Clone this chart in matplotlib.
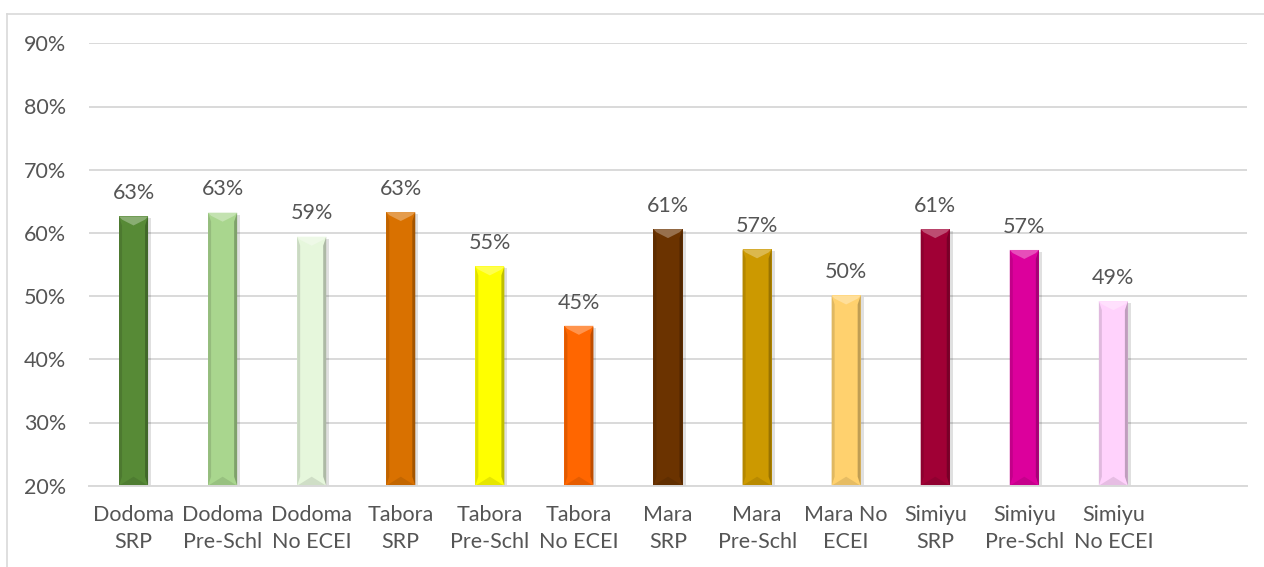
import matplotlib
matplotlib.use("Agg")
import matplotlib.pyplot as plt
from matplotlib.patches import Polygon, Rectangle
from matplotlib.lines import Line2D
from matplotlib.colors import to_rgb
import numpy as np

categories = ["Dodoma\nSRP", "Dodoma\nPre-Schl", "Dodoma\nNo ECEI",
              "Tabora\nSRP", "Tabora\nPre-Schl", "Tabora\nNo ECEI",
              "Mara\nSRP", "Mara\nPre-Schl", "Mara No\nECEI",
              "Simiyu\nSRP", "Simiyu\nPre-Schl", "Simiyu\nNo ECEI"]
values = [62.6, 63.2, 59.4, 63.3, 54.7, 45.3, 60.6, 57.4, 50.1, 60.6, 57.3, 49.2]
bar_colors = ["#578a36", "#a9d68e", "#e6f7dc",
              "#d97100", "#ffff00", "#ff6600",
              "#6b3300", "#cc9900", "#ffd16e",
              "#a00035", "#dc009c", "#ffd2fc"]
y_ticks = [20, 30, 40, 50, 60, 70, 80, 90]

plt.rcParams["font.family"] = ["Lato", "DejaVu Sans"]
text_color = "#555555"
grid_color = "#d9d9d9"
fsize = 15.5

W, H = 1264, 567
fig = plt.figure(figsize=(W / 100, H / 100), dpi=100)
ax = fig.add_axes([89 / W, 1 - 485.7 / H, (1247 - 89) / W, (485.7 - 43.3) / H])

n_slots = len(categories) + 1
ax.set_xlim(-0.5, n_slots - 0.5)
ax.set_ylim(20, 90)

x = np.arange(len(categories))
bar_w = 0.326
bars = ax.bar(x, values, width=bar_w, bottom=0, color=bar_colors,
              edgecolor="none", zorder=3)


def shade(c, f):
    r, g, b = to_rgb(c)
    if f >= 0:
        return (r + (1 - r) * f, g + (1 - g) * f, b + (1 - b) * f)
    return (r * (1 + f), g * (1 + f), b * (1 + f))


px_x = 1.0 / ((1247 - 89) / n_slots)   # data units per pixel, x
px_y = 70.0 / (485.7 - 43.3)           # data units per pixel, y
for rect, col in zip(bars, bar_colors):
    x0 = rect.get_x()
    x1 = x0 + rect.get_width()
    xc = (x0 + x1) / 2
    top = rect.get_height()
    bot = 20
    d = 3 * px_x
    h = 9 * px_y
    # soft drop shadow
    ax.add_patch(Rectangle((x0 + 1.5 * px_x, bot - 2 * px_y), x1 - x0 + 1.5 * px_x,
                           top - bot, facecolor="#000000", alpha=0.12,
                           edgecolor="none", zorder=2, clip_on=True))
    # side bevels
    ax.add_patch(Polygon([(x0, top), (x0 + d, top - h), (x0 + d, bot + h), (x0, bot)],
                         closed=True, facecolor=shade(col, -0.12), edgecolor="none", zorder=4))
    ax.add_patch(Polygon([(x1, top), (x1 - d, top - h), (x1 - d, bot + h), (x1, bot)],
                         closed=True, facecolor=shade(col, -0.25), edgecolor="none", zorder=4))
    # top bevel
    ax.add_patch(Polygon([(x0, top), (x1, top), (x1 - d, top - h * 0.35), (xc, top - h),
                          (x0 + d, top - h * 0.35)],
                         closed=True, facecolor=shade(col, 0.3), edgecolor="none", zorder=4))
    # bottom bevel
    ax.add_patch(Polygon([(x0, bot), (x1, bot), (xc, bot + h)],
                         closed=True, facecolor=shade(col, -0.1), edgecolor="none", zorder=4))
    ax.text(xc, top + 2.1, f"{top:.0f}%", ha="center", va="bottom",
            fontsize=fsize, color=text_color, zorder=5)

ax.set_yticks(y_ticks)
ax.set_yticklabels([f"{t}%" for t in y_ticks])
ax.set_xticks(x)
ax.set_xticklabels(categories, linespacing=1.4)
ax.tick_params(axis="both", length=0, labelsize=fsize, labelcolor=text_color)
ax.tick_params(axis="y", pad=16.5)
ax.tick_params(axis="x", pad=14)

ax.grid(axis="y", color=grid_color, linewidth=1.4, zorder=0)
ax.set_axisbelow(True)
for side in ["top", "right", "left"]:
    ax.spines[side].set_visible(False)
ax.spines["bottom"].set_color(grid_color)
ax.spines["bottom"].set_linewidth(1.4)
ax.spines["bottom"].set_zorder(5)

# chart area frame
fig.add_artist(Line2D([7 / W, 7 / W], [0, 1 - 14 / H], color="#d9d9d9", linewidth=1.2))
fig.add_artist(Line2D([7 / W, 1], [1 - 14 / H, 1 - 14 / H], color="#d9d9d9", linewidth=1.2))

fig.savefig("out.png", dpi=100, facecolor="white")
